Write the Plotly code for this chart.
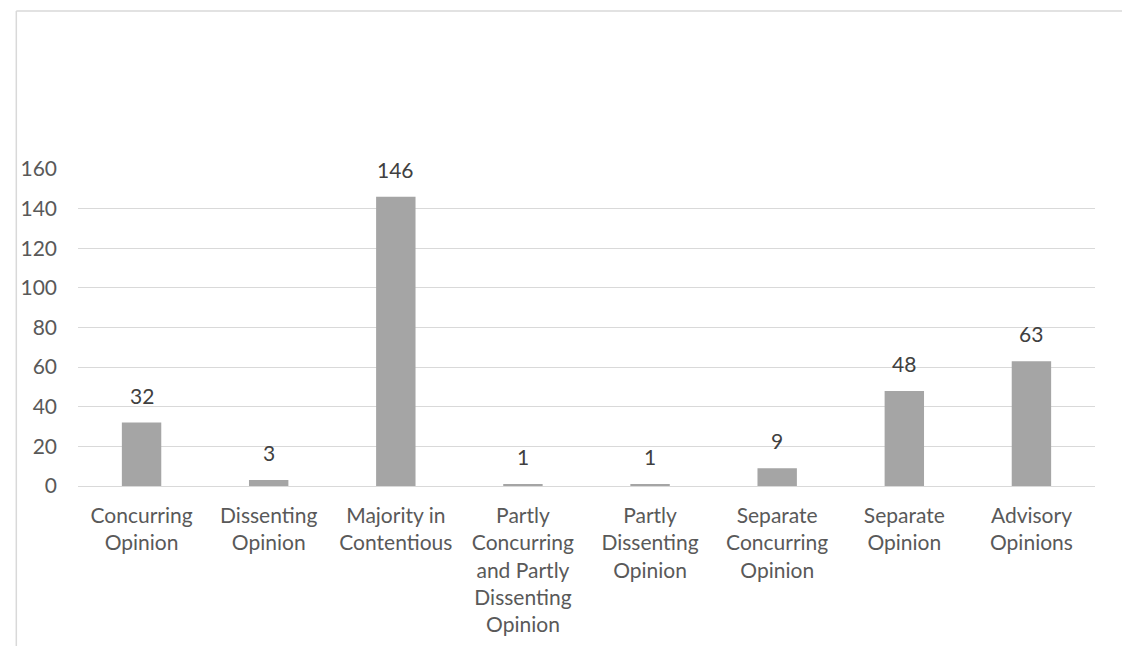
import plotly.graph_objects as go

categories = [
    "Concurring<br>Opinion",
    "Dissenting<br>Opinion",
    "Majority in<br>Contentious",
    "Partly<br>Concurring<br>and Partly<br>Dissenting<br>Opinion",
    "Partly<br>Dissenting<br>Opinion",
    "Separate<br>Concurring<br>Opinion",
    "Separate<br>Opinion",
    "Advisory<br>Opinions",
]
values = [32, 3, 146, 1, 1, 9, 48, 63]
y_ticks = [0, 20, 40, 60, 80, 100, 120, 140, 160]

FONT = "Lato"
FS = 21
W, H = 1130, 646
# page body has an 8px offset; plot area placed to match the reference
L, R, T, B = 65, 43, 161, 168
pw, ph = W - L - R, H - T - B

fig = go.Figure()
fig.add_trace(go.Bar(
    x=list(range(len(categories))), y=values,
    marker=dict(color="#A5A5A5", line=dict(width=0)),
    width=0.31,
    hoverinfo="skip",
))

for i, v in enumerate(values):
    fig.add_annotation(x=i, y=v, text=str(v), showarrow=False,
                       yanchor="bottom", yshift=13,
                       font=dict(family=FONT, size=FS, color="#404040"))

# outer chart border (top and left)
edge = 3
bx = (edge - L) / pw
by_top = (H - B - edge) / ph
by_bot = (H - B - H) / ph
bx_right = (W - L) / pw
fig.add_shape(type="line", xref="paper", yref="paper", x0=bx, x1=bx_right, y0=by_top, y1=by_top,
              line=dict(color="#D9D9D9", width=1.5))
fig.add_shape(type="line", xref="paper", yref="paper", x0=bx, x1=bx, y0=by_bot, y1=by_top,
              line=dict(color="#D9D9D9", width=1.5))

fig.update_layout(
    width=W, height=H,
    margin=dict(l=L, r=R, t=T, b=B, pad=0),
    paper_bgcolor="white", plot_bgcolor="white",
    showlegend=False,
    font=dict(family=FONT, size=FS, color="#595959"),
    xaxis=dict(
        tickmode="array", tickvals=list(range(len(categories))), ticktext=categories,
        range=[-0.5, len(categories) - 0.5],
        showgrid=False, zeroline=False, showline=False, ticks="",
        tickangle=0, ticklabelstandoff=15,
        tickfont=dict(family=FONT, size=FS, color="#595959"),
    ),
    yaxis=dict(
        range=[0, 160], tickmode="array", tickvals=y_ticks,
        showgrid=True, gridcolor="#D9D9D9", gridwidth=1.3,
        zeroline=True, zerolinecolor="#D9D9D9", zerolinewidth=1.3,
        showline=False, ticks="", ticklabelstandoff=20,
        tickfont=dict(family=FONT, size=FS, color="#595959"),
    ),
)

fig.write_html("out.html")
